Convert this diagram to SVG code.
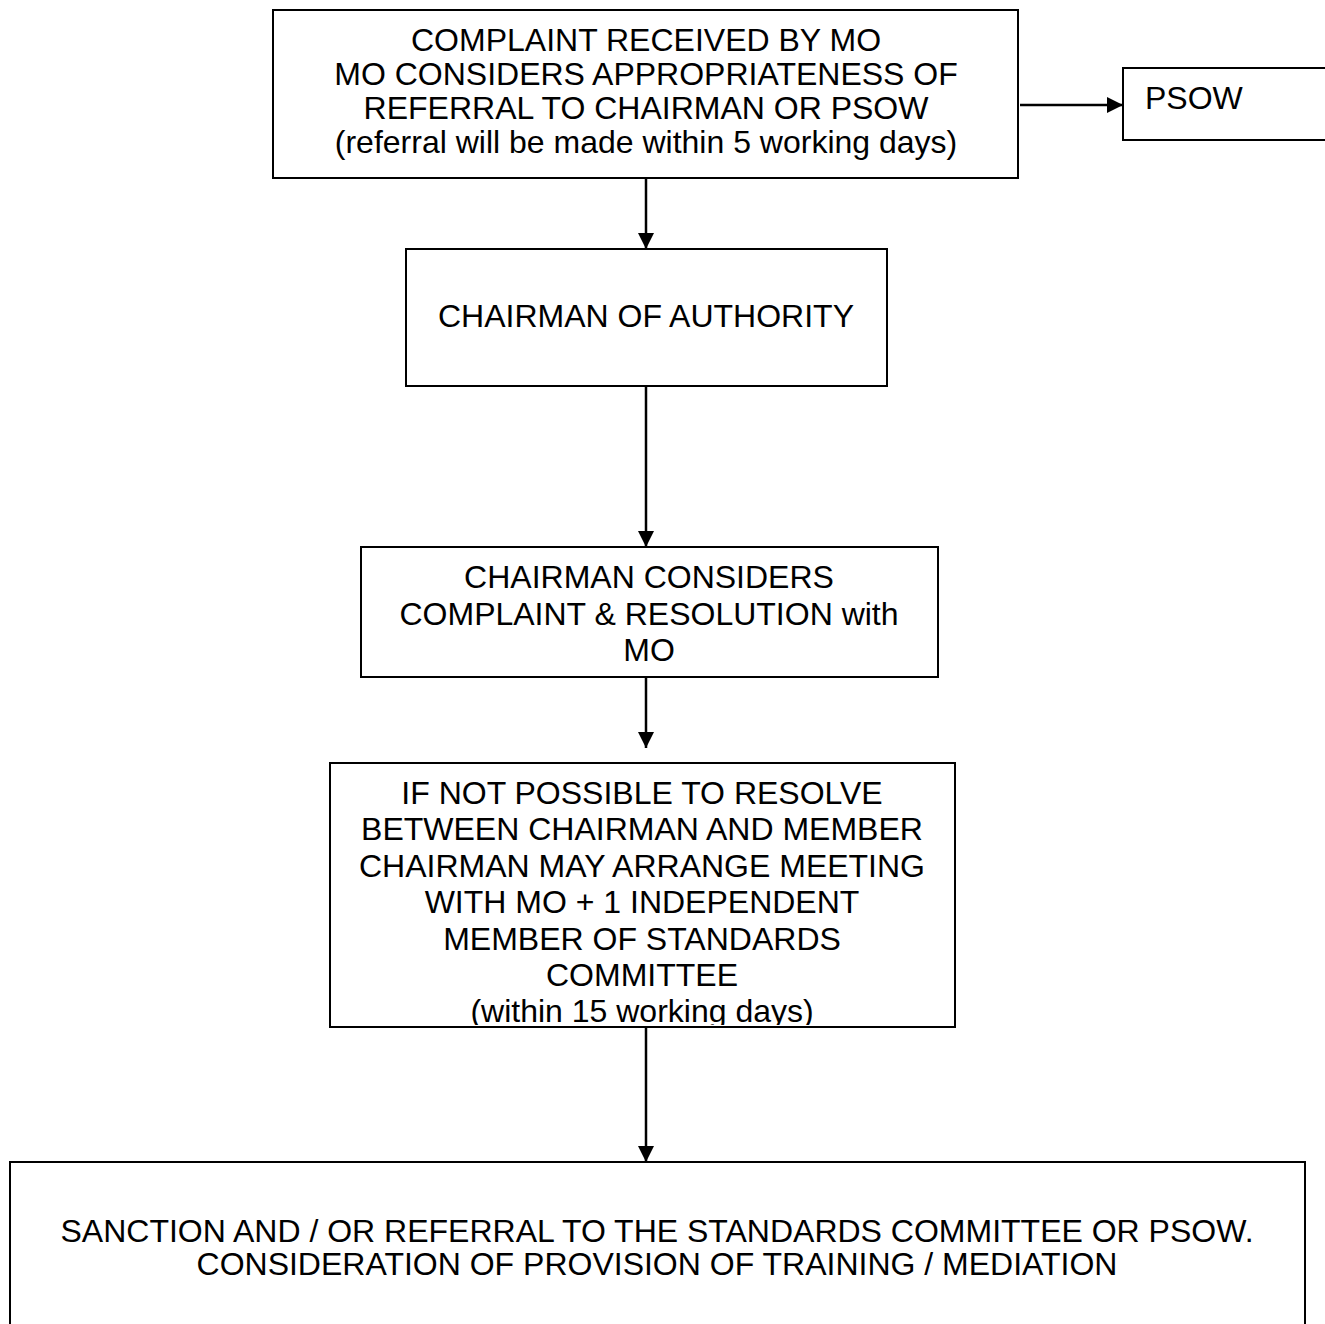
<svg xmlns="http://www.w3.org/2000/svg" width="1325" height="1324" viewBox="0 0 1325 1324">
<style>
.box{fill:#fff;stroke:#000;stroke-width:2}
.t{font-family:"Liberation Sans",Arial,sans-serif;font-size:32px;fill:#000;text-anchor:middle}
.tl{font-family:"Liberation Sans",Arial,sans-serif;font-size:32px;fill:#000}
.c{stroke:#000;stroke-width:2.5;fill:none}
</style>
<defs>
<marker id="ah" viewBox="0 0 16 16" refX="16" refY="8" markerWidth="16" markerHeight="16" markerUnits="userSpaceOnUse" orient="auto">
<path d="M0,0 L16,8 L0,16 Z" fill="#000"/>
</marker>
<clipPath id="clip4"><rect x="330" y="763" width="625" height="262"/></clipPath>
</defs>
<rect width="1325" height="1324" fill="#fff"/>
<g id="n1">
<rect class="box" x="273" y="10" width="745" height="168"/>
<text class="t" x="646" y="51">COMPLAINT RECEIVED BY MO</text>
<text class="t" x="646" y="85">MO CONSIDERS APPROPRIATENESS OF</text>
<text class="t" x="646" y="119">REFERRAL TO CHAIRMAN OR PSOW</text>
<text class="t" x="646" y="153">(referral will be made within 5 working days)</text>
</g>
<g id="n-psow">
<rect class="box" x="1123" y="68" width="220" height="72"/>
<text class="tl" x="1145" y="109">PSOW</text>
</g>
<g id="n2">
<rect class="box" x="406" y="249" width="481" height="137"/>
<text class="t" x="646" y="327">CHAIRMAN OF AUTHORITY</text>
</g>
<g id="n3">
<rect class="box" x="361" y="547" width="577" height="130"/>
<text class="t" x="649" y="588">CHAIRMAN CONSIDERS</text>
<text class="t" x="649" y="625">COMPLAINT &amp; RESOLUTION with</text>
<text class="t" x="649" y="661">MO</text>
</g>
<g id="n4">
<rect class="box" x="330" y="763" width="625" height="264"/>
<g clip-path="url(#clip4)">
<text class="t" x="642" y="804">IF NOT POSSIBLE TO RESOLVE</text>
<text class="t" x="642" y="840">BETWEEN CHAIRMAN AND MEMBER</text>
<text class="t" x="642" y="877">CHAIRMAN MAY ARRANGE MEETING</text>
<text class="t" x="642" y="913">WITH MO + 1 INDEPENDENT</text>
<text class="t" x="642" y="950">MEMBER OF STANDARDS</text>
<text class="t" x="642" y="986">COMMITTEE</text>
<text class="t" x="642" y="1022">(within 15 working days)</text>
</g>
</g>
<g id="n5">
<rect class="box" x="10" y="1162" width="1295" height="180"/>
<text class="t" x="657" y="1242">SANCTION AND / OR REFERRAL TO THE STANDARDS COMMITTEE OR PSOW.</text>
<text class="t" x="657" y="1275">CONSIDERATION OF PROVISION OF TRAINING / MEDIATION</text>
</g>
<g id="connectors">
<line class="c" x1="1020" y1="105" x2="1123" y2="105" marker-end="url(#ah)"/>
<line class="c" x1="646" y1="178" x2="646" y2="249" marker-end="url(#ah)"/>
<line class="c" x1="646" y1="386" x2="646" y2="547" marker-end="url(#ah)"/>
<line class="c" x1="646" y1="677" x2="646" y2="748" marker-end="url(#ah)"/>
<line class="c" x1="646" y1="1027" x2="646" y2="1162" marker-end="url(#ah)"/>
</g>
</svg>
